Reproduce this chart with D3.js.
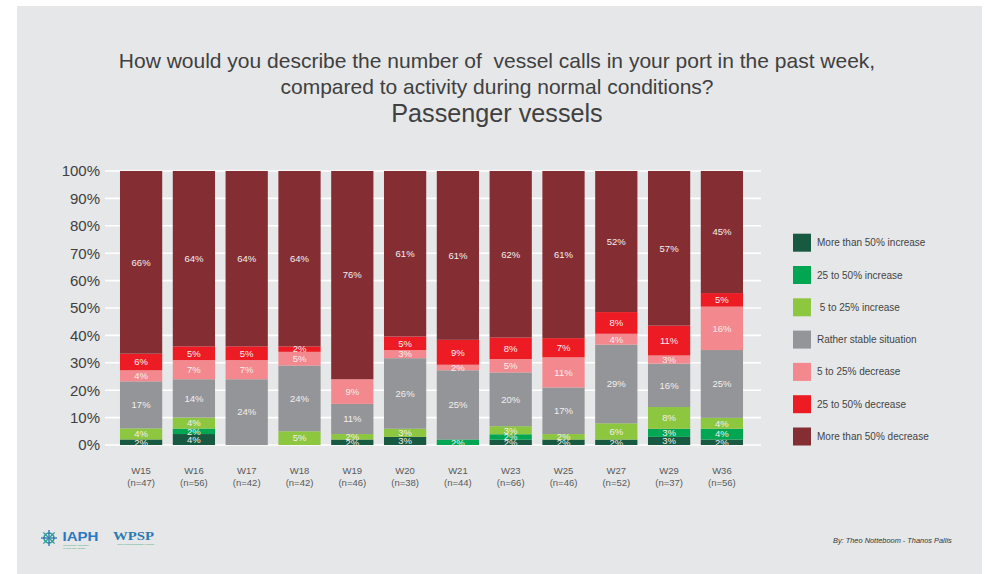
<!DOCTYPE html>
<html>
<head>
<meta charset="utf-8">
<script src="https://cdn.jsdelivr.net/npm/d3@7"></script>
<style>
  html, body { margin: 0; padding: 0; background: #ffffff; }
  svg { display: block; font-family: "Liberation Sans", Arial, Helvetica, sans-serif; }
</style>
</head>
<body>
<svg id="chart" width="985" height="574"></svg>
<script>
// Survey weeks and number of responding ports per week
const weeks = ["W15", "W16", "W17", "W18", "W19", "W20", "W21", "W23", "W25", "W27", "W29", "W36"];
const sampleSizes = [47, 56, 42, 42, 46, 38, 44, 66, 46, 52, 37, 56];

// Answer categories, bottom of the stack first
const categories = [
  "More than 50% increase",
  "25 to 50% increase",
  " 5 to 25% increase",
  "Rather stable situation",
  "5 to 25% decrease",
  "25 to 50% decrease",
  "More than 50% decrease"
];
const categoryColors = ["#175a41", "#00a651", "#8dc63f", "#939598", "#f3898f", "#ed1c24", "#842e34"];

// Share of answers per week (%), one array per category
const moreThan50Increase = [2, 4, 0, 0, 2, 3, 0, 2, 2, 2, 3, 2];
const increase25to50     = [0, 2, 0, 0, 0, 0, 2, 2, 0, 0, 3, 4];
const increase5to25      = [4, 4, 0, 5, 2, 3, 0, 3, 2, 6, 8, 4];
const ratherStable       = [17, 14, 24, 24, 11, 26, 25, 20, 17, 29, 16, 25];
const decrease5to25      = [4, 7, 7, 5, 9, 3, 2, 5, 11, 4, 3, 16];
const decrease25to50     = [6, 5, 5, 2, 0, 5, 9, 8, 7, 8, 11, 5];
const moreThan50Decrease = [66, 64, 64, 64, 76, 61, 61, 62, 61, 52, 57, 45];

const seriesValues = [moreThan50Increase, increase25to50, increase5to25, ratherStable,
                      decrease5to25, decrease25to50, moreThan50Decrease];

// Axis ticks (%)
const yTicks = [0, 10, 20, 30, 40, 50, 60, 70, 80, 90, 100];

const titleLines = [
  "How would you describe the number of  vessel calls in your port in the past week,",
  "compared to activity during normal conditions?"
];
const subtitle = "Passenger vessels";
const credit = "By: Theo Notteboom - Thanos Pallis";

// ---- build table for d3.stack ----
const rows = weeks.map((w, i) => {
  const r = { week: w, n: sampleSizes[i] };
  categories.forEach((c, k) => { r[c] = seriesValues[k][i]; });
  return r;
});

const stacked = d3.stack()
  .keys(categories)
  .offset(d3.stackOffsetExpand)(rows);

const svg = d3.select("#chart");

// background panel
svg.append("rect")
  .attr("x", 17).attr("y", 6)
  .attr("width", 965).attr("height", 580)
  .attr("fill", "#e6e7e8");

// ---- scales ----
const x = d3.scaleBand()
  .domain(weeks)
  .range([114.7, 748.3])
  .paddingInner(0.2)
  .paddingOuter(0.1);

const y = d3.scaleLinear().domain([0, 1]).range([445, 171]);

const color = d3.scaleOrdinal().domain(categories).range(categoryColors);

// ---- gridlines ----
svg.append("g")
  .selectAll("line")
  .data(yTicks)
  .join("line")
  .attr("x1", 105).attr("x2", 761)
  .attr("y1", d => y(d / 100)).attr("y2", d => y(d / 100))
  .attr("stroke", "#ffffff")
  .attr("stroke-width", 1.6);

// ---- y axis ----
const yAxis = svg.append("g")
  .attr("transform", "translate(105,0)")
  .call(d3.axisLeft(y)
    .tickValues(yTicks.map(t => t / 100))
    .tickFormat(d => Math.round(d * 100) + "%")
    .tickSize(0)
    .tickPadding(5));
yAxis.select(".domain").remove();
yAxis.selectAll("text")
  .attr("font-size", 15)
  .attr("font-family", "'Liberation Sans', Arial, sans-serif")
  .attr("fill", "#404040");

// ---- stacked bars ----
const layers = svg.append("g")
  .selectAll("g")
  .data(stacked)
  .join("g")
  .attr("fill", d => color(d.key));

layers.selectAll("rect")
  .data(d => d)
  .join("rect")
  .attr("x", d => x(d.data.week))
  .attr("width", x.bandwidth())
  .attr("y", d => y(d[1]))
  .attr("height", d => Math.max(0, y(d[0]) - y(d[1])));

// ---- value labels ----
const labelGroup = svg.append("g")
  .attr("font-size", 9.5)
  .attr("fill", "#f4eeee")
  .attr("text-anchor", "middle");

stacked.forEach(layer => {
  layer.forEach(seg => {
    const v = seg.data[layer.key];
    if (!v) return;
    labelGroup.append("text")
      .attr("x", x(seg.data.week) + x.bandwidth() / 2)
      .attr("y", (y(seg[0]) + y(seg[1])) / 2)
      .attr("dy", "0.35em")
      .text(v + "%");
  });
});

// ---- x axis labels ----
const xAxis = svg.append("g")
  .attr("transform", "translate(0,466)")
  .call(d3.axisBottom(x).tickSize(0).tickPadding(0));
xAxis.select(".domain").remove();
xAxis.selectAll("text").remove();
xAxis.selectAll(".tick").each(function(w, i) {
  const t = d3.select(this).append("text")
    .attr("text-anchor", "middle")
    .attr("font-size", 9.5)
    .attr("font-family", "'Liberation Sans', Arial, sans-serif")
    .attr("fill", "#595959");
  t.append("tspan").attr("x", 0).attr("y", 8).text(w);
  t.append("tspan").attr("x", 0).attr("y", 19.5).text("(n=" + sampleSizes[weeks.indexOf(w)] + ")");
});

// ---- title ----
const title = svg.append("g").attr("text-anchor", "middle").attr("fill", "#404040");
title.append("text").attr("x", 497).attr("y", 68).attr("font-size", 21)
  .style("white-space", "pre").text(titleLines[0]);
title.append("text").attr("x", 497).attr("y", 93.5).attr("font-size", 21).text(titleLines[1]);
title.append("text").attr("x", 497).attr("y", 122).attr("font-size", 25.2).text(subtitle);

// ---- legend ----
const legend = svg.append("g")
  .selectAll("g")
  .data(categories)
  .join("g")
  .attr("transform", (d, i) => `translate(793,${242.7 + i * 32.3})`);

legend.append("rect")
  .attr("x", 0).attr("y", -9)
  .attr("width", 18).attr("height", 18)
  .attr("fill", d => color(d));

legend.append("text")
  .attr("x", 24).attr("y", 0).attr("dy", "0.35em")
  .attr("font-size", 10)
  .attr("fill", "#444444")
  .style("white-space", "pre")
  .text(d => d);

// ---- footer: logos and credit ----
const logo = svg.append("g");
const wheel = logo.append("g").attr("transform", "translate(49,538)")
  .attr("stroke", "#2e9c9a").attr("fill", "none");
wheel.append("circle").attr("r", 5).attr("stroke-width", 1.6);
d3.range(8).forEach(k => {
  const a = k * Math.PI / 4;
  wheel.append("line")
    .attr("x1", 0).attr("y1", 0)
    .attr("x2", 8 * Math.cos(a)).attr("y2", 8 * Math.sin(a))
    .attr("stroke-width", 1.3)
    .attr("stroke", k % 2 ? "#2e9c9a" : "#2a6fb5");
});
logo.append("text").attr("x", 62.5).attr("y", 541)
  .attr("font-size", 12).attr("font-weight", "bold")
  .attr("textLength", 36).attr("lengthAdjust", "spacingAndGlyphs")
  .attr("fill", "#2b78c2").text("IAPH");
logo.append("text").attr("x", 63).attr("y", 545.5)
  .attr("font-size", 2.4).attr("fill", "#3aa57a").text("International Association");
logo.append("text").attr("x", 63).attr("y", 548.5)
  .attr("font-size", 2.4).attr("fill", "#3aa57a").text("of Ports and Harbors");
logo.append("text").attr("x", 113).attr("y", 540)
  .attr("font-size", 12).attr("font-weight", "bold")
  .attr("font-family", "'Liberation Serif', 'DejaVu Serif', serif")
  .attr("textLength", 41).attr("lengthAdjust", "spacingAndGlyphs")
  .attr("fill", "#2a7ab0").text("WPSP");
logo.append("text").attr("x", 117).attr("y", 545)
  .attr("font-size", 2.4).attr("fill", "#3aa57a").text("World Ports Sustainability Program");

svg.append("text")
  .attr("x", 833).attr("y", 543)
  .attr("font-size", 7.4)
  .attr("font-style", "italic")
  .attr("fill", "#333333")
  .text(credit);
</script>
</body>
</html>
